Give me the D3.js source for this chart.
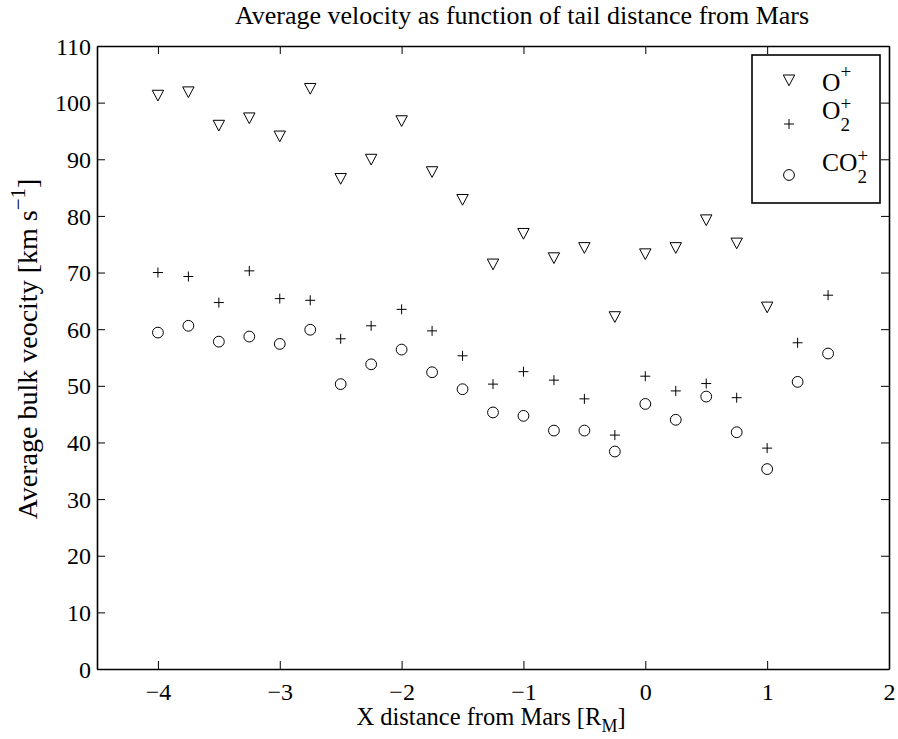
<!DOCTYPE html>
<html><head><meta charset="utf-8">
<script src="https://cdn.jsdelivr.net/npm/d3@7"></script>
<style>
body{margin:0;background:#fff;}
svg{display:block;font-family:"Liberation Serif","Times New Roman",serif;}
</style></head>
<body>
<svg id="chart" width="898" height="739"></svg>
<script>
const xValues = [-4,-3.75,-3.5,-3.25,-3,-2.75,-2.5,-2.25,-2,-1.75,-1.5,-1.25,-1,-0.75,-0.5,-0.25,0,0.25,0.5,0.75,1,1.25,1.5];
const oPlus  = [101.3,101.9,96.0,97.3,94.1,102.5,86.6,90.0,96.8,87.8,82.9,71.5,76.9,72.6,74.4,62.2,73.3,74.4,79.3,75.2,63.9,null,null];
const o2Plus = [70.0,69.3,64.7,70.3,65.4,65.1,58.3,60.6,63.5,59.7,55.3,50.3,52.5,51.0,47.7,41.3,51.7,49.1,50.4,47.9,39.0,57.6,66.0];
const co2Plus= [59.4,60.6,57.8,58.7,57.4,59.9,50.3,53.8,56.4,52.4,49.4,45.3,44.7,42.1,42.1,38.4,46.8,44.0,48.1,41.8,35.3,50.7,55.7];
const xTicks = [-4,-3,-2,-1,0,1,2];
const yTicks = [0,10,20,30,40,50,60,70,80,90,100,110];
const titleText = "Average velocity as function of tail distance from Mars";

const svg = d3.select("#chart");
const L=97, R=889, T=46, B=669;
const x = d3.scaleLinear().domain([-4.5,2]).range([L,R]);
const y = d3.scaleLinear().domain([0,110]).range([B,T]);

const fmt = d3.format("");
const fs = 24;
const serif = '"Liberation Serif","Times New Roman",serif';
function styleAxis(g, labels){
  g.attr("font-family",serif);
  g.select(".domain").attr("stroke","#000").attr("stroke-width",1.6);
  g.selectAll(".tick line").attr("stroke","#000").attr("stroke-width",1);
  g.selectAll(".tick text").attr("font-family",serif).attr("font-size",fs).attr("fill","#000").attr("dy",null);
  if(!labels) g.selectAll(".tick text").remove();
}
svg.append("g").attr("transform",`translate(0,${B})`)
  .call(d3.axisBottom(x).tickValues(xTicks).tickSizeInner(-8).tickSizeOuter(0).tickPadding(10).tickFormat(fmt))
  .call(g=>styleAxis(g,true))
  .call(g=>g.selectAll(".tick text").attr("y",31));
svg.append("g").attr("transform",`translate(0,${T})`)
  .call(d3.axisTop(x).tickValues(xTicks).tickSizeInner(-8).tickSizeOuter(0))
  .call(g=>styleAxis(g,false));
svg.append("g").attr("transform",`translate(${L},0)`)
  .call(d3.axisLeft(y).tickValues(yTicks).tickSizeInner(-8).tickSizeOuter(0).tickPadding(6).tickFormat(fmt))
  .call(g=>styleAxis(g,true))
  .call(g=>g.selectAll(".tick text").attr("dy","0.34em"));
svg.append("g").attr("transform",`translate(${R},0)`)
  .call(d3.axisRight(y).tickValues(yTicks).tickSizeInner(-8).tickSizeOuter(0))
  .call(g=>styleAxis(g,false));

// markers
const triPath = "M-5.7,-5L5.7,-5L0,5.7Z";
const plusPath = "M-5,0H5M0,-5V5";
function drawSeries(vals, kind){
  const data = xValues.map((xv,i)=>({x:xv,v:vals[i]})).filter(d=>d.v!=null);
  const g = svg.append("g");
  if(kind==="circle"){
    g.selectAll("circle").data(data).join("circle")
      .attr("cx",d=>x(d.x)).attr("cy",d=>y(d.v)).attr("r",5.4)
      .attr("fill","none").attr("stroke","#000").attr("stroke-width",1);
  } else {
    g.selectAll("path").data(data).join("path")
      .attr("transform",d=>`translate(${x(d.x)},${y(d.v)})`)
      .attr("d", kind==="tri"?triPath:plusPath)
      .attr("fill","none").attr("stroke","#000").attr("stroke-width",1);
  }
}
drawSeries(oPlus,"tri");
drawSeries(o2Plus,"plus");
drawSeries(co2Plus,"circle");

// title
svg.append("text").attr("x",522).attr("y",24).attr("text-anchor","middle")
  .attr("font-size",26).text(titleText);

// x label
const xl = svg.append("text").attr("x",491).attr("y",725).attr("text-anchor","middle").attr("font-size",24.5);
xl.append("tspan").text("X distance from Mars [R");
xl.append("tspan").attr("font-size",18).attr("dy",7).text("M");
xl.append("tspan").attr("dy",-7).text("]");

// y label
const yl = svg.append("text").attr("transform",`translate(37,349) rotate(-90)`)
  .attr("text-anchor","middle").attr("font-size",28);
yl.append("tspan").text("Average bulk veocity [km s");
yl.append("tspan").attr("font-size",21).attr("dy",-12).text("−1");
yl.append("tspan").attr("dy",12).text("]");

// legend
const lg = svg.append("g");
lg.append("rect").attr("x",752).attr("y",55).attr("width",128).attr("height",148)
  .attr("fill","#fff").attr("stroke","#000").attr("stroke-width",1.6);
const legItems = [{kind:"tri",ty:80,base:"O",sub:null,sup:"+",b:91,supOff:-13,subOff:0},
                  {kind:"plus",ty:124,base:"O",sub:"2",sup:"+",b:119,supOff:-9,subOff:12},
                  {kind:"circle",ty:175,base:"CO",sub:"2",sup:"+",b:171,supOff:-9,subOff:12}];
const mx = 789, tx = 822;
legItems.forEach(it=>{
  if(it.kind==="circle") lg.append("circle").attr("cx",mx).attr("cy",it.ty).attr("r",5.4).attr("fill","none").attr("stroke","#000");
  else lg.append("path").attr("transform",`translate(${mx},${it.ty})`).attr("d",it.kind==="tri"?triPath:plusPath).attr("fill","none").attr("stroke","#000");
  const t = lg.append("text").attr("x",tx).attr("y",it.b).attr("font-size",25.5).text(it.base);
  const w = t.node().getComputedTextLength();
  lg.append("text").attr("x",tx+w).attr("y",it.b+it.supOff).attr("font-size",19).text(it.sup);
  if(it.sub) lg.append("text").attr("x",tx+w).attr("y",it.b+it.subOff).attr("font-size",19).text(it.sub);
});
</script>
</body></html>
